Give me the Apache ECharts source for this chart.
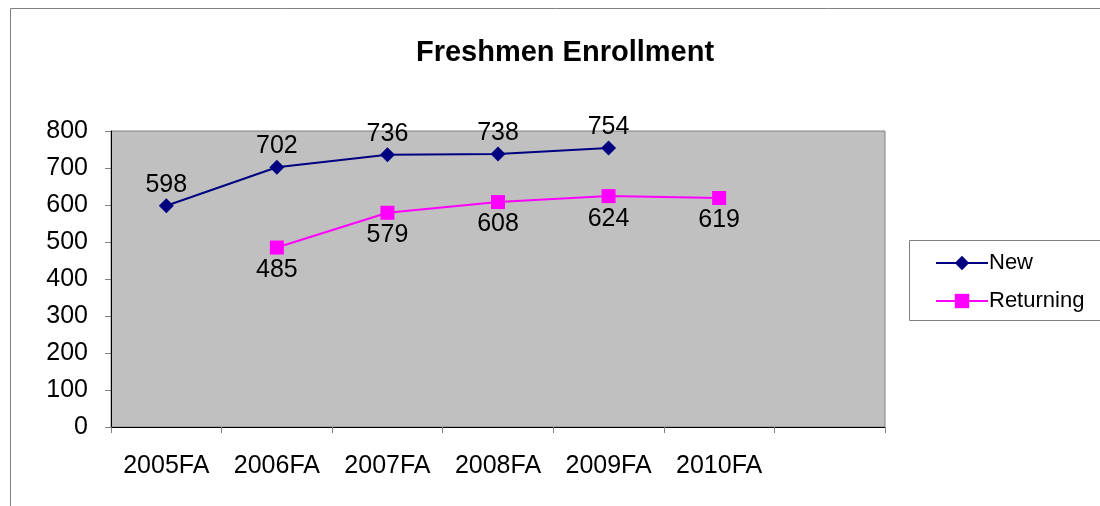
<!DOCTYPE html>
<html>
<head>
<meta charset="utf-8">
<script src="https://cdn.jsdelivr.net/npm/echarts@6/dist/echarts.min.js"></script>
<style>
  html, body { margin: 0; padding: 0; background: #fff; }
  #chart { width: 1100px; height: 506px; }
</style>
</head>
<body>
<div id="chart"></div>
<script>
// categories (last slot is empty in the original)
const terms = ['2005FA', '2006FA', '2007FA', '2008FA', '2009FA', '2010FA', ''];
const newStudents = [598, 702, 736, 738, 754, null, null];
const returningStudents = [null, 485, 579, 608, 624, 619, null];
const yTicks = { min: 0, max: 800, step: 100 };

const font = 'Liberation Sans, Arial, sans-serif';
const chart = echarts.init(document.getElementById('chart'));

chart.setOption({
  animation: false,
  textStyle: { fontFamily: font },
  title: {
    text: 'Freshmen Enrollment',
    left: 560,
    top: 33,
    textAlign: 'center',
    textStyle: { fontSize: 29, fontWeight: 'bold', color: '#000', fontFamily: font }
  },
  graphic: [
    {
      type: 'rect',
      shape: { x: 10.5, y: 8.5, width: 1200, height: 600 },
      style: { fill: 'none', stroke: '#808080', lineWidth: 1 },
      silent: true
    },
    {
      type: 'rect',
      shape: { x: 909.5, y: 240.5, width: 300, height: 80 },
      style: { fill: '#fff', stroke: '#808080', lineWidth: 1 },
      z: 0,
      silent: true
    }
  ],
  legend: {
    orient: 'vertical',
    left: 930,
    top: 246,
    itemWidth: 52,
    itemHeight: 18,
    itemGap: 14,
    z: 10,
    textStyle: { fontSize: 22, color: '#000', fontFamily: font, lineHeight: 24, padding: [0, 0, 0, -4] },
    data: ['New', 'Returning']
  },
  grid: {
    left: 111,
    top: 131,
    right: 215,
    bottom: 79,
    show: true,
    backgroundColor: '#C0C0C0',
    borderColor: '#808080',
    borderWidth: 1
  },
  xAxis: {
    type: 'category',
    data: terms,
    boundaryGap: true,
    axisLine: { lineStyle: { color: '#000', width: 1 } },
    axisTick: { show: true, length: 6, lineStyle: { color: '#808080' } },
    axisLabel: { fontSize: 25, color: '#000', margin: 27, fontFamily: font, interval: 0 },
    splitLine: { show: false }
  },
  yAxis: {
    type: 'value',
    min: yTicks.min,
    max: yTicks.max,
    interval: yTicks.step,
    axisLine: { show: true, lineStyle: { color: '#000', width: 1 } },
    axisTick: { show: true, length: 6, lineStyle: { color: '#808080' } },
    axisLabel: { fontSize: 25, color: '#000', margin: 23, fontFamily: font },
    splitLine: { show: false }
  },
  series: [
    {
      name: 'New',
      type: 'line',
      data: newStudents,
      color: '#000080',
      symbol: 'diamond',
      symbolSize: 15,
      lineStyle: { width: 2, color: '#000080' },
      label: { show: true, position: 'top', distance: 1, fontSize: 25, color: '#000', fontFamily: font }
    },
    {
      name: 'Returning',
      type: 'line',
      data: returningStudents,
      color: '#FF00FF',
      symbol: 'rect',
      symbolSize: 14,
      lineStyle: { width: 2, color: '#FF00FF' },
      label: { show: true, position: 'bottom', distance: 3, fontSize: 25, color: '#000', fontFamily: font }
    }
  ]
});
</script>
</body>
</html>
